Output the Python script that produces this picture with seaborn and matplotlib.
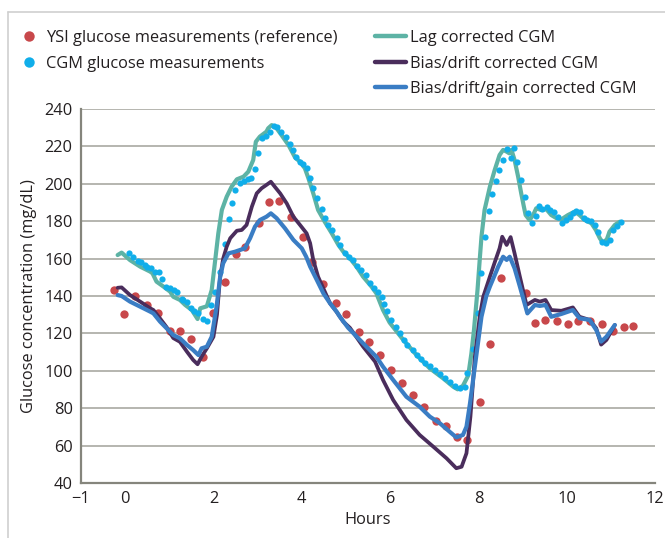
import matplotlib
matplotlib.use("Agg")
import matplotlib.pyplot as plt
from matplotlib.lines import Line2D
import seaborn as sns
import pandas as pd

# ---------------- data ----------------
ysi_h = [-0.26, -0.02, 0.23, 0.50, 0.75, 1.02, 1.25, 1.49, 1.77, 1.98, 2.25, 2.51, 2.72,
         3.04, 3.26, 3.49, 3.75, 4.02, 4.24, 4.49, 4.77, 5.01, 5.29, 5.53, 5.78, 6.03,
         6.27, 6.52, 6.76, 7.03, 7.27, 7.52, 7.74, 8.03, 8.27, 8.52, 9.07, 9.28, 9.52,
         9.78, 10.03, 10.26, 10.52, 10.79, 11.05, 11.29, 11.51]
ysi_v = [143.0, 130.5, 140.2, 135.0, 131.0, 121.3, 121.3, 116.8, 107.5, 130.7, 147.5, 162.5, 166.4,
         179.2, 190.1, 191.0, 182.4, 171.7, 158.0, 146.3, 136.1, 130.2, 120.6, 115.6, 108.4, 100.4,
         93.3, 87.1, 80.5, 73.3, 70.5, 64.8, 63.0, 83.5, 114.2, 149.5, 141.4, 125.4, 127.2,
         126.8, 125.0, 126.8, 126.6, 125.0, 121.4, 123.6, 124.1]

cgm_h = [0.08, 0.17, 0.28, 0.36, 0.44, 0.50, 0.58, 0.68, 0.77, 0.84, 0.93, 1.02, 1.10, 1.18,
         1.28, 1.32, 1.41, 1.49, 1.57, 1.65, 1.76, 1.85, 1.95, 2.04, 2.15, 2.25, 2.35, 2.43,
         2.49, 2.59, 2.69, 2.78, 2.85, 2.94, 3.02, 3.11, 3.20, 3.28, 3.36, 3.44, 3.54, 3.64,
         3.73, 3.81, 3.88, 3.96, 4.03, 4.11, 4.19, 4.26, 4.34, 4.45, 4.52, 4.60, 4.68, 4.79,
         4.86, 4.99, 5.07, 5.17, 5.26, 5.35, 5.45, 5.54, 5.64, 5.73, 5.81, 5.87, 5.93, 6.03,
         6.13, 6.22, 6.31, 6.39, 6.51, 6.60, 6.70, 6.79, 6.90, 7.01, 7.13, 7.24, 7.35, 7.47,
         7.58, 7.69, 7.75, 7.88, 7.98, 8.07, 8.14, 8.24, 8.31, 8.39, 8.47, 8.56, 8.64, 8.73,
         8.80, 8.88, 8.96, 9.05, 9.12, 9.22, 9.30, 9.37, 9.45, 9.55, 9.63, 9.71, 9.80, 9.89,
         9.98, 10.07, 10.14, 10.22, 10.31, 10.39, 10.47, 10.56, 10.63, 10.71, 10.80, 10.90,
         10.97, 11.06, 11.15, 11.22]
cgm_v = [162.8, 161.0, 158.9, 158.0, 156.4, 155.3, 154.8, 153.0, 153.0, 148.9, 145.0, 144.1, 143.2, 142.3,
         138.4, 137.9, 137.0, 133.4, 132.1, 130.7, 127.5, 126.8, 135.2, 142.0, 153.0, 167.8, 181.0, 189.6,
         196.7, 200.3, 201.5, 202.4, 203.3, 207.7, 216.6, 224.7, 225.7, 227.5, 231.1, 230.5, 227.5, 224.9,
         221.3, 218.1, 214.5, 211.5, 210.4, 208.3, 202.9, 197.9, 192.2, 186.5, 181.5, 178.0, 175.3, 170.9,
         167.3, 162.8, 161.0, 159.3, 156.2, 153.9, 151.2, 147.1, 144.4, 142.3, 139.6, 135.7, 132.0, 127.2,
         123.6, 120.1, 116.5, 113.8, 111.1, 108.4, 106.1, 104.3, 102.6, 100.4, 98.3, 96.0, 94.2, 91.9,
         90.6, 91.5, 99.0, 111.7, 131.1, 152.1, 171.7, 185.6, 194.5, 201.6, 207.4, 212.7, 218.6, 213.6,
         219.0, 211.5, 202.0, 192.7, 184.2, 179.2, 182.8, 188.1, 186.5, 187.8, 186.0, 185.1, 182.1, 179.2,
         180.6, 182.1, 184.2, 185.6, 185.1, 181.6, 180.6, 180.3, 177.9, 174.4, 169.0, 168.2,
         169.9, 175.3, 177.6, 179.7]

lag_h = [-0.17, -0.08, 0.11, 0.34, 0.57, 0.62, 0.71, 0.87, 1.02, 1.09, 1.24, 1.36, 1.51, 1.64,
         1.70, 1.85, 1.96, 2.04, 2.11, 2.19, 2.30, 2.41, 2.53, 2.68, 2.79, 2.90, 2.96, 3.05,
         3.20, 3.24, 3.32, 3.43, 3.54, 3.70, 3.85, 3.96, 4.07, 4.15, 4.26, 4.37, 4.52, 4.68,
         4.83, 4.94, 5.09, 5.24, 5.39, 5.58, 5.69, 5.84, 5.99, 6.30, 6.60, 6.90, 7.20, 7.43,
         7.53, 7.65, 7.77, 7.84, 7.90, 7.98, 8.03, 8.07, 8.14, 8.26, 8.37, 8.48, 8.56, 8.64,
         8.70, 8.75, 8.82, 8.90, 8.97, 9.03, 9.07, 9.16, 9.24, 9.31, 9.42, 9.54, 9.65, 9.77,
         9.88, 10.03, 10.18, 10.29, 10.41, 10.56, 10.66, 10.75, 10.82, 10.91, 10.97, 11.09, 11.20]
lag_v = [161.9, 163.2, 159.2, 155.7, 153.0, 152.1, 147.7, 145.0, 142.3, 139.6, 137.9, 135.2, 132.5, 127.7,
         133.4, 134.5, 143.2, 159.3, 173.5, 186.0, 193.1, 198.4, 202.4, 203.8, 206.5, 212.7, 222.5, 225.2,
         227.9, 229.7, 231.4, 229.7, 226.1, 220.7, 214.0, 211.8, 208.3, 203.0, 194.9, 186.0, 179.7, 173.5,
         167.3, 163.7, 160.2, 155.7, 150.3, 145.0, 141.4, 132.5, 125.8, 116.5, 108.4, 101.3, 96.0, 91.5,
         90.1, 92.0, 97.5, 109.0, 121.8, 143.2, 159.3, 171.7, 186.0, 198.4, 207.4, 215.4, 218.1, 217.2,
         216.3, 218.1, 212.7, 203.8, 194.9, 187.8, 183.3, 180.6, 183.3, 186.9, 186.0, 186.4, 183.3, 181.6,
         181.0, 183.3, 185.1, 183.3, 180.6, 178.9, 175.3, 170.9, 168.5, 170.3, 174.4, 178.0, 179.7]

bd_h = [-0.17, -0.08, 0.11, 0.34, 0.57, 0.64, 0.79, 0.94, 1.09, 1.24, 1.40, 1.54, 1.64, 1.73,
        1.85, 2.00, 2.08, 2.15, 2.22, 2.30, 2.38, 2.53, 2.64, 2.75, 2.87, 2.98, 3.09, 3.20,
        3.30, 3.39, 3.51, 3.66, 3.81, 3.96, 4.11, 4.19, 4.26, 4.37, 4.49, 4.64, 4.79, 4.94,
        5.09, 5.39, 5.66, 5.84, 6.07, 6.37, 6.67, 6.98, 7.28, 7.50, 7.62, 7.73, 7.82, 7.92,
        8.03, 8.11, 8.26, 8.37, 8.48, 8.54, 8.64, 8.73, 8.82, 8.94, 9.09, 9.28, 9.39, 9.52,
        9.65, 9.88, 10.14, 10.29, 10.52, 10.67, 10.78, 10.90, 11.09]
bd_v = [144.4, 144.6, 140.5, 137.0, 133.4, 132.5, 128.0, 123.3, 117.5, 115.5, 110.2, 105.8, 103.5, 107.5,
        112.0, 118.2, 130.0, 150.0, 160.0, 166.4, 170.9, 174.9, 175.3, 178.0, 187.8, 194.9, 197.6, 199.4,
        201.1, 198.4, 194.9, 189.5, 182.4, 178.0, 173.5, 168.2, 159.3, 150.3, 144.0, 136.1, 131.5, 126.3,
        123.0, 112.9, 104.9, 95.1, 84.4, 73.7, 65.7, 59.4, 53.2, 47.9, 48.7, 55.9, 75.5, 107.5,
        128.9, 139.6, 150.3, 158.0, 165.5, 171.7, 167.3, 171.5, 162.8, 150.3, 135.2, 137.9, 137.0, 137.9,
        132.5, 132.1, 133.9, 128.9, 127.2, 122.7, 114.0, 116.5, 124.5]

bdg_h = [-0.17, -0.08, 0.11, 0.34, 0.57, 0.64, 0.79, 0.94, 1.09, 1.24, 1.40, 1.54, 1.66, 1.73,
         1.85, 1.96, 2.07, 2.15, 2.22, 2.34, 2.49, 2.60, 2.71, 2.83, 2.94, 3.05, 3.20, 3.30,
         3.43, 3.62, 3.81, 4.00, 4.10, 4.19, 4.34, 4.49, 4.64, 4.79, 4.86, 5.05, 5.39, 5.69,
         5.84, 6.07, 6.37, 6.67, 6.90, 7.13, 7.35, 7.50, 7.65, 7.73, 7.81, 7.92, 8.07, 8.18,
         8.26, 8.45, 8.56, 8.64, 8.71, 8.82, 8.94, 9.11, 9.28, 9.39, 9.52, 9.65, 9.88, 10.14,
         10.29, 10.52, 10.67, 10.78, 10.90, 11.09]
bdg_v = [140.5, 140.0, 137.0, 134.3, 131.6, 130.7, 126.3, 122.7, 119.1, 117.4, 113.8, 111.1, 108.4, 112.0,
         112.9, 118.2, 134.3, 150.0, 157.5, 162.8, 163.7, 164.6, 165.5, 170.9, 177.1, 180.6, 182.4, 184.2,
         181.6, 176.2, 170.0, 165.5, 161.0, 155.7, 148.6, 141.4, 136.1, 131.6, 129.0, 123.0, 114.7, 107.5,
         102.2, 95.1, 86.1, 80.8, 75.5, 71.9, 67.4, 64.4, 65.7, 70.1, 82.6, 102.2, 128.9, 140.0,
         145.0, 155.7, 161.0, 159.3, 161.0, 154.8, 145.0, 130.7, 135.2, 134.7, 135.2, 128.9, 130.4, 132.5,
         128.1, 127.2, 121.8, 115.6, 118.2, 124.5]

x_ticks = [-1, 0, 2, 4, 6, 8, 10, 12]
x_tick_labels = ["\u22121", "0", "2", "4", "6", "8", "10", "12"]
y_ticks = [40, 60, 80, 100, 120, 140, 160, 180, 200, 220, 240]

labels = ["YSI glucose measurements (reference)", "CGM glucose measurements",
          "Lag corrected CGM", "Bias/drift corrected CGM", "Bias/drift/gain corrected CGM"]

# ---------------- styling ----------------
C_YSI = "#c8484b"
C_CGM = "#10aeea"
C_LAG = "#5db3a5"
C_BD = "#4a2d5c"
C_BDG = "#3a7dc4"
TXT = "#231f20"

sns.set_theme(style="white")
plt.rcParams["font.family"] = ["Open Sans", "DejaVu Sans"]
FS = 11.8

fig = plt.figure(figsize=(6.65, 5.38), dpi=100)
ax = fig.add_axes([81 / 665, 55 / 538, 574 / 665, 374 / 538])

ysi = pd.DataFrame({"h": ysi_h, "v": ysi_v})
cgm = pd.DataFrame({"h": cgm_h, "v": cgm_v})
lag = pd.DataFrame({"h": lag_h, "v": lag_v})
bd = pd.DataFrame({"h": bd_h, "v": bd_v})
bdg = pd.DataFrame({"h": bdg_h, "v": bdg_v})

sns.scatterplot(data=ysi, x="h", y="v", ax=ax, color=C_YSI, s=36, linewidth=0, zorder=2)
sns.lineplot(data=lag, x="h", y="v", ax=ax, color=C_LAG, lw=3.0, estimator=None, sort=False, zorder=3)
sns.scatterplot(data=cgm, x="h", y="v", ax=ax, color=C_CGM, s=20, linewidth=0, zorder=4)
sns.lineplot(data=bd, x="h", y="v", ax=ax, color=C_BD, lw=2.7, estimator=None, sort=False, zorder=5)
sns.lineplot(data=bdg, x="h", y="v", ax=ax, color=C_BDG, lw=3.0, estimator=None, sort=False, zorder=6)

ax.set_xlim(-1, 12)
ax.set_ylim(40, 240)
ax.set_xticks(x_ticks)
ax.set_xticklabels(x_tick_labels)
ax.set_yticks(y_ticks)
ax.tick_params(axis="both", length=0, labelsize=FS, colors=TXT, pad=6)
ax.grid(axis="y", color="#a9a9a2", lw=1.2)
ax.grid(axis="x", visible=False)
ax.set_axisbelow(True)
for s in ["top", "right"]:
    ax.spines[s].set_visible(False)
for s in ["left", "bottom"]:
    ax.spines[s].set_color("#85857c")
    ax.spines[s].set_linewidth(1.6)
ax.set_xlabel("Hours", fontsize=FS, color=TXT, labelpad=3)
ax.set_ylabel("Glucose concentration (mg/dL)", fontsize=FS, color=TXT, labelpad=5)

# legends
h1 = [Line2D([], [], ls="none", marker="o", ms=7.5, color=C_YSI, mec="none"),
      Line2D([], [], ls="none", marker="o", ms=7.5, color=C_CGM, mec="none")]
h2 = [Line2D([], [], color=C_LAG, lw=3.2),
      Line2D([], [], color=C_BD, lw=3.2),
      Line2D([], [], color=C_BDG, lw=3.2)]
leg1 = fig.legend(h1, labels[:2], loc="upper left", bbox_to_anchor=(21 / 665, 1 - 30 / 538),
                  frameon=False, fontsize=FS, handlelength=1.0, handletextpad=0.5,
                  labelspacing=0.58, borderpad=0, borderaxespad=0, labelcolor=TXT)
leg2 = fig.legend(h2, labels[2:], loc="upper left", bbox_to_anchor=(375 / 665, 1 - 30 / 538),
                  frameon=False, fontsize=FS, handlelength=1.9, handletextpad=0.25,
                  labelspacing=0.58, borderpad=0, borderaxespad=0, labelcolor=TXT)

# light frame around the figure
fig.add_artist(Line2D([8 / 665, 1.0], [1 - 12 / 538, 1 - 12 / 538], color="#cfcfcf", lw=1.2,
                      transform=fig.transFigure))
fig.add_artist(Line2D([8 / 665, 8 / 665], [0, 1 - 12 / 538], color="#cfcfcf", lw=1.2,
                      transform=fig.transFigure))

fig.savefig("out.png", dpi=100)
